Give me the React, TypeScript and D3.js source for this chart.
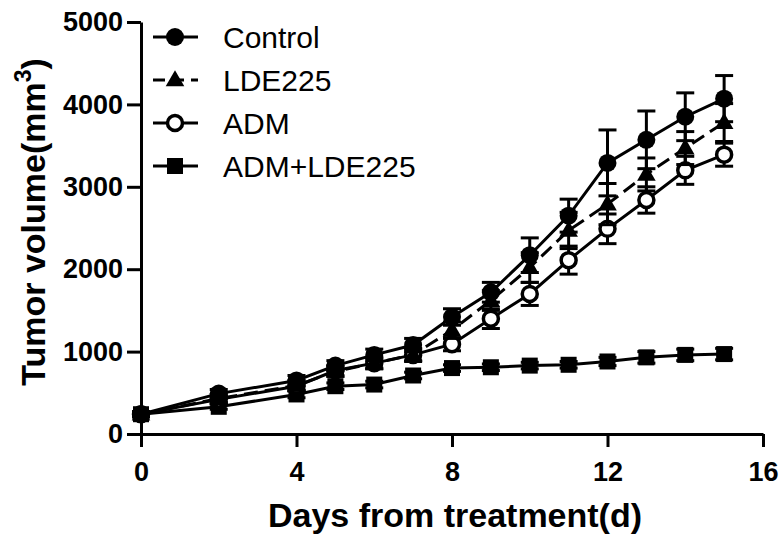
import React, { useRef, useEffect } from "react";
import * as d3 from "d3";

// days of measurement
const days = [0, 2, 4, 5, 6, 7, 8, 9, 10, 11, 12, 13, 14, 15];

// mean tumor volume (mm3) and error for each group
const controlMean = [240, 490, 650, 830, 960, 1080, 1420, 1720, 2170, 2650, 3290, 3570, 3850, 4070];
const controlErr = [30, 50, 60, 60, 70, 80, 100, 120, 210, 200, 400, 350, 290, 280];
const ldeMean = [240, 430, 590, 760, 860, 960, 1260, 1620, 2020, 2470, 2790, 3150, 3470, 3780];
const ldeErr = [30, 50, 60, 60, 70, 80, 100, 120, 180, 220, 250, 200, 200, 230];
const admMean = [240, 420, 580, 770, 860, 960, 1090, 1400, 1700, 2110, 2490, 2840, 3200, 3390];
const admErr = [30, 40, 50, 60, 60, 70, 80, 120, 140, 170, 180, 160, 170, 140];
const comboMean = [240, 330, 480, 580, 600, 710, 800, 810, 830, 840, 880, 930, 960, 970];
const comboErr = [20, 30, 40, 40, 40, 40, 40, 40, 40, 40, 50, 70, 70, 70];

const seriesNames = ["Control", "LDE225", "ADM", "ADM+LDE225"];
const xTicks = [0, 4, 8, 12, 16];
const yTicks = [0, 1000, 2000, 3000, 4000, 5000];

const FONT = "'Liberation Sans', Arial, sans-serif";

function App() {
  const svgRef = useRef<SVGSVGElement>(null);
  const width = 784;
  const height = 539;

  useEffect(() => {
    const svg = d3.select(svgRef.current);
    svg.selectAll("*").remove();

    const x = d3.scaleLinear().domain([0, 16]).range([141, 763]);
    const y = d3.scaleLinear().domain([0, 5000]).range([434, 22]);

    const series = [
      { name: seriesNames[0], mean: controlMean, err: controlErr, shape: "circle", dash: null },
      { name: seriesNames[1], mean: ldeMean, err: ldeErr, shape: "triangle", dash: "14,7" },
      { name: seriesNames[2], mean: admMean, err: admErr, shape: "open", dash: null },
      { name: seriesNames[3], mean: comboMean, err: comboErr, shape: "square", dash: null },
    ];

    //axes
    const xAxis = svg
      .append("g")
      .attr("transform", "translate(0," + y(0) + ")")
      .call(d3.axisBottom(x).tickValues(xTicks).tickSize(13).tickSizeOuter(0));
    xAxis.selectAll("text").attr("y", 47).attr("dy", 0);

    const yAxis = svg
      .append("g")
      .attr("transform", "translate(" + x(0) + ",0)")
      .call(
        d3.axisLeft(y).tickValues(yTicks).tickFormat(d3.format("d")).tickSize(14).tickPadding(4).tickSizeOuter(0)
      );

    [xAxis, yAxis].forEach(a => {
      a.select(".domain").attr("stroke", "#000").attr("stroke-width", 3);
      a.selectAll(".tick line").attr("stroke", "#000").attr("stroke-width", 3);
      a.selectAll("text")
        .attr("fill", "#000")
        .style("font-family", FONT)
        .style("font-size", "27px")
        .style("font-weight", "bold");
    });

    //axis titles
    svg
      .append("text")
      .attr("x", 455)
      .attr("y", 527)
      .attr("text-anchor", "middle")
      .style("font-family", FONT)
      .style("font-size", "34px")
      .style("font-weight", "bold")
      .text("Days from treatment(d)");

    const yTitle = svg
      .append("text")
      .attr("transform", "translate(45,222) rotate(-90)")
      .attr("text-anchor", "middle")
      .style("font-family", FONT)
      .style("font-size", "34px")
      .style("font-weight", "bold");
    yTitle.append("tspan").text("Tumor volume(mm");
    yTitle.append("tspan").attr("dy", -14).style("font-size", "23px").text("3");
    yTitle.append("tspan").attr("dy", 14).text(")");

    const drawMarker = (g: any, shape: string, cx: number, cy: number) => {
      if (shape === "circle") {
        g.append("circle").attr("cx", cx).attr("cy", cy).attr("r", 9).attr("fill", "#000");
      } else if (shape === "open") {
        g.append("circle")
          .attr("cx", cx)
          .attr("cy", cy)
          .attr("r", 7.5)
          .attr("fill", "#fff")
          .attr("stroke", "#000")
          .attr("stroke-width", 3.5);
      } else if (shape === "triangle") {
        g.append("path")
          .attr("transform", "translate(" + cx + "," + (cy + 1) + ")")
          .attr("d", d3.symbol().type(d3.symbolTriangle).size(150)())
          .attr("fill", "#000");
      } else {
        g.append("rect")
          .attr("x", cx - 8)
          .attr("y", cy - 8)
          .attr("width", 16)
          .attr("height", 16)
          .attr("fill", "#000");
      }
    };

    const line = d3
      .line<number>()
      .x((d, i) => x(days[i]))
      .y(d => y(d));

    //draw bottom series first so Control sits on top
    series
      .slice()
      .reverse()
      .forEach(s => {
        const g = svg.append("g");
        g.append("path")
          .attr("d", line(s.mean))
          .attr("fill", "none")
          .attr("stroke", "#000")
          .attr("stroke-width", 3)
          .attr("stroke-dasharray", s.dash);

        s.mean.forEach((m, i) => {
          const cx = x(days[i]);
          const top = y(m + s.err[i]);
          const bot = y(m - s.err[i]);
          g.append("line").attr("x1", cx).attr("x2", cx).attr("y1", top).attr("y2", bot)
            .attr("stroke", "#000").attr("stroke-width", 3);
          [top, bot].forEach(cy => {
            g.append("line").attr("x1", cx - 9).attr("x2", cx + 9).attr("y1", cy).attr("y2", cy)
              .attr("stroke", "#000").attr("stroke-width", 3);
          });
        });

        s.mean.forEach((m, i) => drawMarker(g, s.shape, x(days[i]), y(m)));
      });

    //legend
    const legend = svg.append("g");
    series.forEach((s, i) => {
      const ly = 37 + i * 43;
      legend.append("line")
        .attr("x1", 153)
        .attr("x2", 198)
        .attr("y1", ly)
        .attr("y2", ly)
        .attr("stroke", "#000")
        .attr("stroke-width", 3)
        .attr("stroke-dasharray", s.dash ? "12,7" : null);
      drawMarker(legend, s.shape, 175, ly);
      legend.append("text")
        .attr("x", 223)
        .attr("y", ly)
        .attr("dy", "0.36em")
        .style("font-family", FONT)
        .style("font-size", "30px")
        .text(s.name);
    });
  }, []);

  return (
    <svg
      ref={svgRef}
      width={width}
      height={height}
      style={{ position: "absolute", left: 0, top: 0, background: "#fff" }}
    ></svg>
  );
}

export default App;
